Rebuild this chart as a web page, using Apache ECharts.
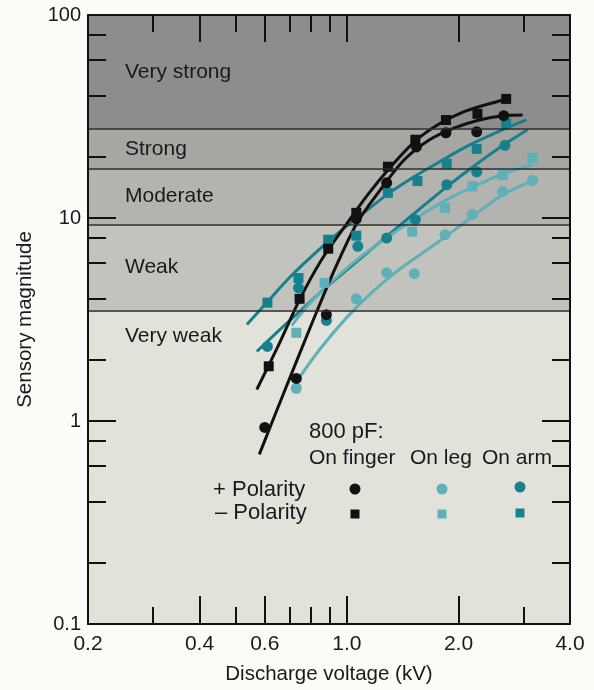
<!DOCTYPE html>
<html>
<head>
<meta charset="utf-8">
<script src="https://cdn.jsdelivr.net/npm/echarts@6/dist/echarts.min.js"></script>
<style>
html,body{margin:0;padding:0;background:#fcfbf7;}
#c{width:594px;height:690px;}
</style>
</head>
<body>
<div id="c"></div>
<script>
// ---- tick / label values ----
const xLabelValues = [0.2, 0.4, 0.6, 1, 2, 4];
const xLabelTexts  = ['0.2', '0.4', '0.6', '1.0', '2.0', '4.0'];
const xMajorTicks  = [0.4, 0.6, 1, 2];
const xMinorTicks  = [0.3, 0.5, 0.7, 0.8, 0.9, 3];
const yLabelValues = [0.1, 1, 10, 100];
const yLabelTexts  = ['0.1', '1', '10', '100'];
const yMajorTicks  = [1, 10];
const yMinorTicks  = [0.2, 0.4, 0.6, 0.8, 2, 4, 6, 8, 20, 40, 60, 80];

// ---- sensory bands ----
const bandNames = ['Very weak', 'Weak', 'Moderate', 'Strong', 'Very strong'];
const bandEdges = [0.1, 3.5, 9.3, 17.5, 27.5, 100];

// ---- measured points (kV, sensory magnitude) ----
const fingerPosV = [0.60, 0.73, 0.88, 1.06, 1.28, 1.54, 1.85, 2.24, 2.65];
const fingerPosS = [0.93, 1.62, 3.34, 9.9, 14.9, 22.4, 26.3, 26.6, 31.9];
const fingerNegV = [0.615, 0.745, 0.89, 1.06, 1.29, 1.53, 1.85, 2.25, 2.69];
const fingerNegS = [1.86, 4.0, 7.06, 10.6, 17.9, 24.3, 30.4, 32.6, 38.6];
const legPosV = [0.73, 1.06, 1.28, 1.52, 1.84, 2.18, 2.63, 3.17];
const legPosS = [1.45, 4.0, 5.38, 5.32, 8.28, 10.4, 13.5, 15.3];
const legNegV = [0.73, 0.87, 1.50, 1.84, 2.18, 2.63, 3.17];
const legNegS = [2.72, 4.79, 8.56, 11.2, 14.3, 16.3, 19.8];
const armPosV = [0.61, 0.74, 0.88, 1.07, 1.28, 1.53, 1.86, 2.24, 2.67];
const armPosS = [2.33, 4.53, 3.13, 7.25, 7.96, 9.81, 14.6, 16.9, 22.8];
const armNegV = [0.61, 0.74, 0.89, 1.06, 1.29, 1.55, 1.86, 2.24, 2.69];
const armNegS = [3.83, 5.06, 7.82, 8.18, 13.3, 15.2, 18.5, 21.9, 29.3];

// ---- fitted curves ----
const fingerPosFitV = [0.58, 0.679, 0.808, 0.926, 1.062, 1.225, 1.43, 1.671, 1.951, 2.278, 2.63, 2.98];
const fingerPosFitS = [0.685, 1.41, 3.09, 5.57, 9.38, 13.6, 19.4, 24.3, 27.8, 30.4, 31.9, 32.2];
const fingerNegFitV = [0.571, 0.659, 0.745, 0.855, 0.986, 1.137, 1.32, 1.531, 1.777, 2.063, 2.364, 2.712];
const fingerNegFitS = [1.43, 2.44, 3.96, 6.24, 9.06, 13.0, 18.1, 24.0, 29.1, 33.3, 36.1, 38.6];
const legPosFitV = [0.732, 0.844, 0.998, 1.166, 1.361, 1.59, 1.845, 2.18, 2.63, 3.17];
const legPosFitS = [1.57, 2.25, 3.23, 4.29, 5.44, 6.67, 8.09, 10.15, 13.0, 15.3];
const legNegFitV = [0.709, 0.793, 0.898, 1.049, 1.225, 1.43, 1.671, 1.951, 2.278, 2.63, 3.17];
const legNegFitS = [2.95, 3.79, 4.75, 6.10, 7.56, 9.17, 10.98, 12.9, 14.7, 16.5, 18.3];
const armPosFitV = [0.571, 0.659, 0.745, 0.87, 1.017, 1.187, 1.387, 1.62, 1.89, 2.208, 2.58, 3.07];
const armPosFitS = [2.20, 2.82, 3.46, 4.49, 5.69, 7.22, 9.17, 11.6, 14.6, 18.1, 22.2, 27.2];
const armNegFitV = [0.537, 0.611, 0.70, 0.818, 0.956, 1.116, 1.303, 1.522, 1.777, 2.075, 2.42, 2.744, 3.05];
const armNegFitS = [2.99, 3.88, 5.09, 6.67, 8.56, 10.7, 13.3, 16.0, 18.9, 22.2, 25.4, 28.1, 30.4];

const BLACK = '#111111';
const LIGHT = '#5eb0b9';
const DARK = '#17808d';
const FONT = 'Liberation Sans';
const TXT = '#1a1a1a';

function pairs(xs, ys) { return xs.map((x, i) => [x, ys[i]]); }
function nearestText(vals, texts, v) {
  let best = 0;
  for (let i = 1; i < vals.length; i++) {
    if (Math.abs(Math.log(vals[i] / v)) < Math.abs(Math.log(vals[best] / v))) best = i;
  }
  return texts[best];
}

const bandColors = ['#e2e1da', '#c3c3be', '#b3b3af', '#a6a6a3', '#8d8d8b'];
const markAreaData = bandNames.map((n, i) => [
  {
    name: n,
    yAxis: bandEdges[i],
    itemStyle: { color: bandColors[i] },
    label: i === 0
      ? { position: [37, 26], verticalAlign: 'middle', align: 'left' }
      : { position: 'insideLeft', distance: 37 }
  },
  { yAxis: bandEdges[i + 1] }
]);
const markLineData = bandEdges.slice(1, -1).map(v => ({ yAxis: v }));

function xAxisDef(pos, ticks, len, showLine, showLabel) {
  return {
    type: 'log', logBase: 10, min: 0.2, max: 4, position: pos, offset: 0, z: 20,
    axisLine: { show: showLine, onZero: false, lineStyle: { color: '#111', width: 2 } },
    axisTick: { show: true, inside: true, length: len, customValues: ticks,
                lineStyle: { color: '#111', width: 2 } },
    axisLabel: showLabel ? {
      show: true, customValues: xLabelValues, margin: 10,
      fontFamily: FONT, fontSize: 21, color: TXT,
      formatter: v => nearestText(xLabelValues, xLabelTexts, v)
    } : { show: false },
    splitLine: { show: false }, minorTick: { show: false }
  };
}
function yAxisDef(pos, ticks, len, showLine, showLabel) {
  return {
    type: 'log', logBase: 10, min: 0.1, max: 100, position: pos, offset: 0, z: 20,
    axisLine: { show: showLine, onZero: false, lineStyle: { color: '#111', width: 2 } },
    axisTick: { show: true, inside: true, length: len, customValues: ticks,
                lineStyle: { color: '#111', width: 2 } },
    axisLabel: showLabel ? {
      show: true, customValues: yLabelValues, margin: 7,
      fontFamily: FONT, fontSize: 20, color: TXT,
      formatter: v => nearestText(yLabelValues, yLabelTexts, v)
    } : { show: false },
    splitLine: { show: false }, minorTick: { show: false }
  };
}

const xAxes = [
  xAxisDef('bottom', xMajorTicks, 28, true, true),
  xAxisDef('bottom', xMinorTicks, 17, false, false),
  xAxisDef('top', xMajorTicks, 27, true, false),
  xAxisDef('top', xMinorTicks, 17, false, false)
];
Object.assign(xAxes[0], {
  name: 'Discharge voltage (kV)', nameLocation: 'middle', nameGap: 40,
  nameTextStyle: { fontFamily: FONT, fontSize: 20.5, color: TXT }
});
const yAxes = [
  yAxisDef('left', yMajorTicks, 28, true, true),
  yAxisDef('left', yMinorTicks, 18, false, false),
  yAxisDef('right', yMajorTicks, 28, true, false),
  yAxisDef('right', yMinorTicks, 18, false, false)
];
Object.assign(yAxes[0], {
  name: 'Sensory magnitude', nameLocation: 'middle', nameGap: 52, nameRotate: 90,
  nameTextStyle: { fontFamily: FONT, fontSize: 20.5, color: TXT }
});

function fitLine(name, xs, ys, color) {
  return {
    name, type: 'line', data: pairs(xs, ys), smooth: 0.3,
    showSymbol: false, symbol: 'none', lineStyle: { color, width: 3 }, z: 3, silent: true
  };
}
function pts(name, xs, ys, color, symbol) {
  return {
    name, type: 'scatter', data: pairs(xs, ys), symbol,
    symbolSize: symbol === 'rect' ? 10 : 11,
    itemStyle: { color, opacity: 1 }, z: 4, silent: true
  };
}

const series = [
  {
    name: 'bands', type: 'line', data: [], silent: true,
    markArea: {
      silent: true,
      label: { show: true, fontFamily: FONT, fontSize: 21, color: TXT },
      data: markAreaData
    },
    markLine: {
      silent: true, symbol: 'none', label: { show: false },
      lineStyle: { color: '#2a2a2a', width: 1.5, type: 'solid' },
      data: markLineData
    },
    z: 1
  },
  fitLine('Arm − fit', armNegFitV, armNegFitS, DARK),
  fitLine('Arm + fit', armPosFitV, armPosFitS, DARK),
  fitLine('Leg − fit', legNegFitV, legNegFitS, LIGHT),
  fitLine('Leg + fit', legPosFitV, legPosFitS, LIGHT),
  fitLine('Finger − fit', fingerNegFitV, fingerNegFitS, BLACK),
  fitLine('Finger + fit', fingerPosFitV, fingerPosFitS, BLACK),
  pts('Leg +', legPosV, legPosS, LIGHT, 'circle'),
  pts('Leg −', legNegV, legNegS, LIGHT, 'rect'),
  pts('Arm +', armPosV, armPosS, DARK, 'circle'),
  pts('Arm −', armNegV, armNegS, DARK, 'rect'),
  pts('Finger +', fingerPosV, fingerPosS, BLACK, 'circle'),
  pts('Finger −', fingerNegV, fingerNegS, BLACK, 'rect')
];

function txt(text, x, y, size) {
  return { type: 'text', x, y, z: 100,
    style: { text, font: (size || 21) + 'px "' + FONT + '"', fill: TXT, verticalAlign: 'middle', align: 'left' } };
}
const graphic = [
  txt('800 pF:', 309, 432, 22),
  txt('On finger', 309, 458),
  txt('On leg', 410, 458),
  txt('On arm', 482, 458),
  txt('+ Polarity', 213, 490, 22),
  txt('– Polarity', 215, 513, 22),
  { type: 'circle', z: 100, shape: { cx: 355, cy: 489, r: 5.5 }, style: { fill: BLACK } },
  { type: 'circle', z: 100, shape: { cx: 442, cy: 489, r: 5.5 }, style: { fill: LIGHT } },
  { type: 'circle', z: 100, shape: { cx: 520, cy: 487, r: 5.5 }, style: { fill: DARK } },
  { type: 'rect', z: 100, shape: { x: 350.5, y: 509.5, width: 9, height: 9 }, style: { fill: BLACK } },
  { type: 'rect', z: 100, shape: { x: 437.5, y: 509.5, width: 9, height: 9 }, style: { fill: LIGHT } },
  { type: 'rect', z: 100, shape: { x: 515.5, y: 508.5, width: 9, height: 9 }, style: { fill: DARK } }
];

const chart = echarts.init(document.getElementById('c'), null, { renderer: 'canvas' });
chart.setOption({
  backgroundColor: '#fcfbf7',
  animation: false,
  grid: { left: 88, right: 24, top: 15, bottom: 65, containLabel: false },
  xAxis: xAxes,
  yAxis: yAxes,
  series: series,
  graphic: graphic
});
</script>
</body>
</html>
